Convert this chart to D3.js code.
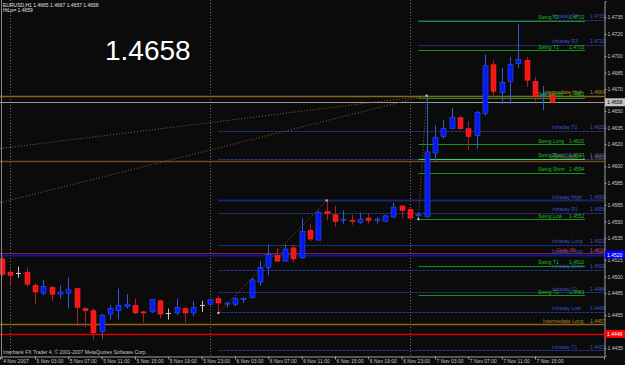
<!DOCTYPE html>
<html>
<head>
<meta charset="utf-8">
<script src="https://cdn.jsdelivr.net/npm/d3@7"></script>
<style>
body { margin: 0; background: #0b0b0b; }
svg { display: block; font-family: "Liberation Sans", Arial, sans-serif; }
</style>
</head>
<body>
<div id="chart1"></div>
<script>

// EURUSD H1 bars, hour 0 = 5 Nov 2007 00:00
var firstHour = -1;
var opens  = [1.4516,1.4504,1.4503,1.4504,1.4492,1.4485,1.4490,1.4484,1.4485,1.4489,1.4471,1.4469,1.4450,1.4466,1.4469,1.4473,1.4474,1.4468,1.4468,1.4478,1.4467,1.4467,1.4471,1.4467,1.4474,1.4475,1.4480,1.4475,1.4475,1.4479,1.4481,1.4495,1.4508,1.4519,1.4514,1.4526,1.4517,1.4542,1.4533,1.4559,1.4556,1.4551,1.4551,1.4549,1.4553,1.4551,1.4550,1.4554,1.4564,1.4561,1.4555,1.4554,1.4612,1.4627,1.4634,1.4644,1.4634,1.4628,1.4648,1.4692,1.4667,1.4677,1.4693,1.4696,1.4677,1.4664,1.4665];
var highs  = [1.4518,1.4507,1.4509,1.4508,1.4494,1.4497,1.4492,1.4492,1.4499,1.4490,1.4472,1.4471,1.4466,1.4474,1.4489,1.4484,1.4480,1.4469,1.4479,1.4479,1.4471,1.4480,1.4473,1.4478,1.4478,1.4479,1.4482,1.4477,1.4481,1.4481,1.4499,1.4514,1.4529,1.4526,1.4529,1.4529,1.4553,1.4548,1.4560,1.4569,1.4564,1.4560,1.4556,1.4558,1.4557,1.4554,1.4556,1.4567,1.4565,1.4562,1.4558,1.4664,1.4637,1.4642,1.4653,1.4646,1.4641,1.4650,1.4701,1.4696,1.4689,1.4699,1.4729,1.4699,1.4681,1.4673,1.4667];
var lows   = [1.4500,1.4491,1.4499,1.4491,1.4475,1.4483,1.4478,1.4480,1.4471,1.4455,1.4454,1.4443,1.4443,1.4461,1.4461,1.4471,1.4466,1.4458,1.4467,1.4462,1.4461,1.4465,1.4458,1.4464,1.4468,1.4474,1.4467,1.4472,1.4473,1.4476,1.4480,1.4492,1.4501,1.4514,1.4514,1.4513,1.4516,1.4532,1.4533,1.4551,1.4545,1.4548,1.4547,1.4548,1.4548,1.4548,1.4550,1.4553,1.4553,1.4553,1.4552,1.4554,1.4604,1.4625,1.4634,1.4633,1.4615,1.4616,1.4646,1.4663,1.4656,1.4656,1.4689,1.4672,1.4659,1.4651,1.4657];
var closes = [1.4502,1.4501,1.4503,1.4493,1.4486,1.4491,1.4484,1.4486,1.4488,1.4472,1.4469,1.4449,1.4465,1.4471,1.4474,1.4475,1.4467,1.4467,1.4479,1.4466,1.4467,1.4472,1.4467,1.4472,1.4474,1.4479,1.4476,1.4476,1.4480,1.4480,1.4497,1.4508,1.4520,1.4514,1.4525,1.4516,1.4541,1.4534,1.4558,1.4557,1.4550,1.4552,1.4550,1.4552,1.4551,1.4552,1.4555,1.4563,1.4560,1.4553,1.4556,1.4613,1.4626,1.4634,1.4644,1.4634,1.4627,1.4649,1.4691,1.4668,1.4676,1.4692,1.4697,1.4678,1.4663,1.4665,1.4658];

var priceTicks = [1.4735,1.4720,1.4700,1.4685,1.4670,1.4650,1.4635,1.4620,1.4600,1.4585,1.4565,1.4550,1.4535,1.4515,1.4500,1.4485,1.4465,1.4435];
var timeTickHours  = [-1,3,7,11,15,19,23,27,31,35,39,43,47,51,55,59,63];
var timeTickLabels = ["4 Nov 2007","5 Nov 03:00","5 Nov 07:00","5 Nov 11:00","5 Nov 15:00","5 Nov 19:00","5 Nov 23:00","6 Nov 03:00","6 Nov 07:00","6 Nov 11:00","6 Nov 15:00","6 Nov 19:00","6 Nov 23:00","7 Nov 03:00","7 Nov 07:00","7 Nov 11:00","7 Nov 15:00"];
var daySeparators = [0,24,48];

// pivot levels drawn by the indicator
var levelNames  = ["Intraday R4","Swing T2","Intraday R3","Swing T1","Intermediate High","Swing High","Intraday T2","Swing Long","Daily Pivot","Swing Pivot","Intermediate T1","Swing Short","Intraday High","Intraday R1","Swing Low","Intraday Long","Daily R1","Intraday Pivot","Swing T1","Intraday Short","Intraday S1","Swing T2","Intraday Low","Intermediate Long","Intraday T1"];
var levelPrices = [1.4733,1.4732,1.4710,1.4705,1.4664,1.4662,1.4632,1.4620,1.4607,1.4607,1.4605,1.4594,1.4569,1.4558,1.4552,1.4529,1.4521,1.4520,1.4510,1.4506,1.4486,1.4483,1.4468,1.4457,1.4433];
var levelKinds  = ["intraday","swing","intraday","swing","inter","swing","intraday","swing","intraday","pivot","brown","swing","high","intraday","swing","intraday","daily","main","swing","intraday","intraday","swing","intraday","inter","intraday"];
var levelFrom   = [49,49,49,49,-2,49,25,49,25,49,-2,49,25,25,49,25,-2,-2,49,25,25,49,25,-2,25];

// other price lines
var bidPrice = 1.4658;
var redLinePrice = 1.4448;

// dotted trend lines (hour, price)
var segHour1  = [25,49,-1.2,-1.2];
var segPrice1 = [1.4467,1.4552,1.4616,1.4567];
var segHour2  = [38,50,50,50];
var segPrice2 = [1.4569,1.4664,1.4664,1.4664];
var pointHours  = [25,38,49,50];
var pointPrices = [1.4467,1.4569,1.4552,1.4664];

var w = 625;
var h = 365;
var axisX = 604;
var axisY = 356;
var fmt = d3.format(".4f");

var xScale = d3.scaleLinear().domain([-1.2, 71.28]).range([0, axisX]);
var yScale = d3.scaleLinear().domain([1.44280, 1.47498]).range([axisY, 1]);

var svg = d3.select("#chart1")
	.append("svg")
	.attr("width", w)
	.attr("height", h);

svg.append("rect").attr("width", w).attr("height", h).attr("fill", "#0b0b0b");

svg.append("clipPath").attr("id", "plot")
	.append("rect").attr("x", 0).attr("y", 0).attr("width", axisX).attr("height", axisY);

var plot = svg.append("g").attr("clip-path", "url(#plot)");

// day separators
plot.selectAll(".sep")
	.data(daySeparators)
	.enter()
	.append("line")
	.attr("x1", function(d) { return Math.round(xScale(d)) + 0.5; })
	.attr("x2", function(d) { return Math.round(xScale(d)) + 0.5; })
	.attr("y1", 0)
	.attr("y2", axisY)
	.attr("stroke", "#6c6c6c")
	.attr("stroke-dasharray", "1,2");

// level lines
var lineStyle = {
	intraday: { color: "#27388e", width: 1, dash: "3,1", text: "#3a54c8", to: 71.3 },
	high:     { color: "#1a2766", width: 2, dash: null,  text: "#3a54c8", to: 71.3 },
	main:     { color: "#0a1a9c", width: 2, dash: null,  text: "#3a54c8", to: 71.3 },
	swing:    { color: "#149414", width: 1, dash: null,  text: "#22b822", to: 69 },
	pivot:    { color: "#20e070", width: 1, dash: null,  text: "#22b822", to: 69 },
	inter:    { color: "#86661a", width: 1.5, dash: null, text: "#b88a20", to: 71.3 },
	brown:    { color: "#6a4a22", width: 1.5, dash: null, text: "#946c2c", to: 71.3 },
	daily:    { color: "#a01818", width: 1, dash: null,  text: "#c82020", to: 71.3 }
};
var labelPos = {
	intraday: [552, 590], high: [552, 590], main: [552, 590],
	swing: [538, 569], pivot: [538, 569],
	inter: [543, 590], brown: [550, 590], daily: [557, 590]
};

levelNames.forEach(function(name, i) {
	var st = lineStyle[levelKinds[i]];
	var yy = Math.round(yScale(levelPrices[i])) + 0.5;
	var ln = plot.append("line")
		.attr("x1", xScale(levelFrom[i]))
		.attr("x2", xScale(st.to))
		.attr("y1", yy)
		.attr("y2", yy)
		.attr("stroke", st.color)
		.attr("stroke-width", st.width);
	if (st.dash) ln.attr("stroke-dasharray", st.dash);
});

// bid line and red line
[bidPrice, redLinePrice].forEach(function(p, i) {
	var yy = Math.round(yScale(p)) + 0.5;
	plot.append("line")
		.attr("x1", 0).attr("x2", axisX)
		.attr("y1", yy).attr("y2", yy)
		.attr("stroke", i === 0 ? "#9c9c9c" : "#dc0000")
		.attr("stroke-width", i === 0 ? 1 : 1.5);
});

// dotted trend lines
plot.selectAll(".trend")
	.data(segHour1)
	.enter()
	.append("line")
	.attr("x1", function(d) { return xScale(d); })
	.attr("y1", function(d, i) { return yScale(segPrice1[i]); })
	.attr("x2", function(d, i) { return xScale(segHour2[i]); })
	.attr("y2", function(d, i) { return yScale(segPrice2[i]); })
	.attr("stroke", "#9a5e26")
	.attr("stroke-width", 1)
	.attr("stroke-dasharray", "1,2");

// candles
var bars = plot.append("g");
opens.forEach(function(o, i) {
	var c = closes[i];
	var hr = firstHour + i;
	var cx = Math.round(xScale(hr)) + 0.5;
	var up = c > o, flat = c === o;
	var wickColor = flat ? "#c8c8c8" : (up ? "#2c5ad8" : "#b81a1a");
	bars.append("line")
		.attr("x1", cx).attr("x2", cx)
		.attr("y1", yScale(highs[i]))
		.attr("y2", yScale(lows[i]))
		.attr("stroke", wickColor);
	if (flat) {
		bars.append("line")
			.attr("x1", cx - 2.5).attr("x2", cx + 2.5)
			.attr("y1", Math.round(yScale(o)) + 0.5)
			.attr("y2", Math.round(yScale(o)) + 0.5)
			.attr("stroke", "#c8c8c8");
	} else {
		var top = yScale(Math.max(o, c));
		var bh = Math.max(1, Math.abs(yScale(o) - yScale(c)));
		bars.append("rect")
			.attr("x", cx - 2.5)
			.attr("y", top)
			.attr("width", 5)
			.attr("height", bh)
			.attr("fill", up ? "#0418f4" : "#f81414")
			.attr("stroke", up ? "#3c5cff" : "#ff3030")
			.attr("stroke-width", 0.5);
	}
});

// zigzag points
plot.selectAll(".pt")
	.data(pointHours)
	.enter()
	.append("rect")
	.attr("x", function(d) { return xScale(d) - 1; })
	.attr("y", function(d, i) { return yScale(pointPrices[i]) - 1; })
	.attr("width", 2)
	.attr("height", 2)
	.attr("fill", "#d8d0b0");

// level labels
levelNames.forEach(function(name, i) {
	var k = levelKinds[i];
	var st = lineStyle[k];
	var yy = yScale(levelPrices[i]) - 1.5;
	svg.append("text")
		.attr("x", labelPos[k][0]).attr("y", yy)
		.attr("font-size", "5px")
		.attr("fill", st.text)
		.text(name);
	svg.append("text")
		.attr("x", labelPos[k][1]).attr("y", yy)
		.attr("font-size", "5px")
		.attr("fill", st.text)
		.text(fmt(levelPrices[i]));
});

// axes
var yAxis = svg.append("g")
	.attr("transform", "translate(" + (axisX + 0.5) + ",0)")
	.call(d3.axisRight(yScale).tickValues(priceTicks).tickSize(2).tickPadding(1).tickFormat(fmt));

var xAxis = svg.append("g")
	.attr("transform", "translate(0," + (axisY + 0.5) + ")")
	.call(d3.axisBottom(xScale).tickValues(timeTickHours).tickSize(3).tickPadding(0)
		.tickFormat(function(d, i) { return timeTickLabels[i]; }));

[yAxis, xAxis].forEach(function(a) {
	a.select(".domain").attr("stroke", "#a0a0a0");
	a.selectAll(".tick line").attr("stroke", "#a0a0a0");
	a.selectAll(".tick text")
		.attr("fill", "#c8c8c8")
		.attr("font-size", "5px")
		.attr("font-family", "Liberation Sans, Arial, sans-serif");
});
xAxis.selectAll(".tick text").attr("text-anchor", "start").attr("dx", "1px").attr("dy", "0.6em");

svg.append("line")
	.attr("x1", 1.5).attr("x2", 1.5).attr("y1", 0).attr("y2", axisY)
	.attr("stroke", "#8a8a8a");

// price boxes on the axis
var boxPrices = [bidPrice, levelPrices[levelNames.indexOf("Intraday Pivot")], redLinePrice];
var boxFill = ["#c4c4c4", "#0000ff", "#ff0000"];
var boxText = ["#000000", "#ffffff", "#ffffff"];
boxPrices.forEach(function(p, i) {
	var yy = yScale(p);
	svg.append("rect")
		.attr("x", axisX + 1).attr("y", yy - 4)
		.attr("width", 20).attr("height", 8)
		.attr("fill", boxFill[i]);
	svg.append("text")
		.attr("x", axisX + 3).attr("y", yy + 2)
		.attr("font-size", "5px")
		.attr("fill", boxText[i])
		.text(fmt(p));
});

// header texts
var last = opens.length - 1;
svg.append("text")
	.attr("x", 3).attr("y", 7)
	.attr("font-size", "5px").attr("fill", "#e0e0e0")
	.text("EURUSD,H1  " + fmt(opens[last]) + " " + fmt(highs[last]) + " " + fmt(lows[last]) + " " + fmt(closes[last]));
svg.append("text")
	.attr("x", 3).attr("y", 12)
	.attr("font-size", "5px").attr("fill", "#e0e0e0")
	.text("HiLo= 1.4659");

svg.append("text")
	.attr("x", 105).attr("y", 60)
	.attr("font-size", "28px").attr("fill", "#ffffff")
	.text(fmt(closes[last]));

svg.append("text")
	.attr("x", 3).attr("y", 354)
	.attr("font-size", "5px").attr("fill", "#c8c8c8")
	.text("Interbank FX Trader 4, \u00a9 2001-2007 MetaQuotes Software Corp.");

</script>
</body>
</html>
